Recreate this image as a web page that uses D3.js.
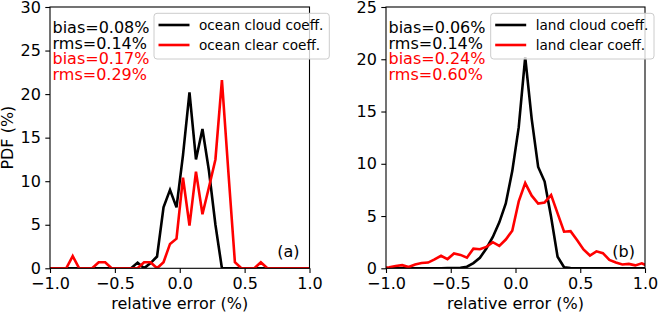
<!DOCTYPE html>
<html>
<head>
<meta charset="utf-8">
<script src="https://cdn.jsdelivr.net/npm/d3@7"></script>
<style>
  body { margin: 0; background: #fff; }
  text { font-family: "DejaVu Sans", sans-serif; }
</style>
</head>
<body>
<script>
// bin centres of the error histogram (x, %), one extra bin each side that the axes clip
var binCenters = [-1.025, -0.975, -0.925, -0.875, -0.825, -0.775, -0.725, -0.675, -0.625, -0.575,
  -0.525, -0.475, -0.425, -0.375, -0.325, -0.275, -0.225, -0.175, -0.125, -0.075,
  -0.025, 0.025, 0.075, 0.125, 0.175, 0.225, 0.275, 0.325, 0.375, 0.425,
  0.475, 0.525, 0.575, 0.625, 0.675, 0.725, 0.775, 0.825, 0.875, 0.925,
  0.975, 1.025];

var oceanCloud = [0, 0, 0, 0, 0, 0, 0, 0, 0, 0,
  0, 0, 0, 0, 0.65, 0, 0.6, 1.35, 7.0, 9.0,
  7.0, 13.0, 20.2, 12.5, 16.0, 11.2, 5.0, 0, 0, 0,
  0, 0, 0, 0, 0, 0, 0, 0, 0, 0,
  0, 0];
var oceanClear = [0, 0, 0, 0, 1.4, 0, 0, 0, 0.7, 0.7,
  0, 0, 0, 0, 0, 0.7, 0.7, 0, 0.7, 2.8,
  3.4, 10.4, 4.9, 11.1, 6.2, 9.3, 12.5, 21.6, 11.0, 0.7,
  0, 0, 0, 0.7, 0, 0, 0, 0, 0, 0,
  0, 0];
var landCloud = [0, 0, 0, 0, 0, 0, 0, 0, 0, 0,
  0.02, 0.03, 0.05, 0.15, 0.5, 1.0, 1.9, 3.0, 4.4, 6.2,
  9.3, 13.5, 20.2, 14.3, 9.7, 8.3, 4.9, 1.1, 0.1, 0.02,
  0, 0, 0, 0, 0, 0, 0, 0, 0, 0,
  0, 0];
var landClear = [0.02, 0.1, 0.22, 0.3, 0.12, 0.37, 0.5, 0.55, 0.85, 1.2,
  0.88, 1.42, 1.28, 1.02, 1.88, 1.82, 2.05, 2.5, 2.15, 2.75,
  3.6, 6.4, 8.15, 6.95, 6.2, 6.3, 7.0, 5.25, 3.5, 3.55,
  2.7, 1.8, 1.22, 1.62, 1.45, 0.8, 0.55, 0.36, 0.42, 0.28,
  0.48, 0.2];

var xTicks = [-1.0, -0.5, 0.0, 0.5, 1.0];
var yTicksOcean = [0, 5, 10, 15, 20, 25, 30];
var yTicksLand = [0, 5, 10, 15, 20, 25];

var oceanStats = ["bias=0.08%", "rms=0.14%", "bias=0.17%", "rms=0.29%"];
var landStats = ["bias=0.06%", "rms=0.14%", "bias=0.24%", "rms=0.60%"];
var statColors = ["black", "black", "red", "red"];

var W = 658, H = 315;
var plotTop = 7, plotBottom = 268.3;

var svg = d3.select("body").append("svg")
  .attr("width", W)
  .attr("height", H);

function drawPanel(p) {
  var x = d3.scaleLinear().domain([-1, 1]).range([p.left, p.right]);
  var y = d3.scaleLinear().domain([0, p.ymax]).range([plotBottom, plotTop]);

  var g = svg.append("g");

  g.append("clipPath").attr("id", "clip" + p.id)
    .append("rect")
      .attr("x", p.left).attr("y", plotTop)
      .attr("width", p.right - p.left).attr("height", plotBottom - plotTop);

  var line = d3.line()
    .x(function (d) { return x(d[0]); })
    .y(function (d) { return y(d[1]); });

  p.series.forEach(function (s) {
    g.append("path")
      .datum(binCenters.map(function (c, i) { return [c, s.values[i]]; }))
      .attr("clip-path", "url(#clip" + p.id + ")")
      .attr("d", line)
      .style("fill", "none")
      .style("stroke", s.color)
      .style("stroke-width", 2.6)
      .style("stroke-linejoin", "miter");
  });

  // axes
  var xAxis = d3.axisBottom(x).tickValues(xTicks).tickSize(4.7).tickPadding(4.5)
    .tickFormat(d3.format(".1f"));
  var yAxis = d3.axisLeft(y).tickValues(p.yTicks).tickSize(4.7).tickPadding(4.5)
    .tickFormat(d3.format("d"));

  var gx = g.append("g").attr("transform", "translate(0," + plotBottom + ")").call(xAxis);
  var gy = g.append("g").attr("transform", "translate(" + p.left + ",0)").call(yAxis);
  [gx, gy].forEach(function (a) {
    a.select(".domain").remove();
    a.selectAll("line").style("stroke", "black").style("stroke-width", 1.1);
    a.selectAll("text").style("font-size", "16px").style("fill", "black")
      .style("font-family", "DejaVu Sans");
  });
  gx.selectAll("text").text(function (d) { return d3.format(".1f")(d).replace("-", "\u2212"); });

  g.append("rect")
    .attr("x", p.left).attr("y", plotTop)
    .attr("width", p.right - p.left).attr("height", plotBottom - plotTop)
    .style("fill", "none").style("stroke", "black").style("stroke-width", 1.1);

  g.append("text")
    .attr("x", (p.left + p.right) / 2).attr("y", 309)
    .attr("text-anchor", "middle")
    .style("font-size", "16px")
    .text("relative error (%)");

  // stats text
  g.selectAll(".stat")
    .data(p.stats).enter().append("text")
      .attr("class", "stat")
      .attr("x", p.left + 2.5)
      .attr("y", function (d, i) { return 33 + i * 15.5; })
      .style("font-size", "16px")
      .style("fill", function (d, i) { return statColors[i]; })
      .text(function (d) { return d; });

  g.append("text")
    .attr("x", p.right - 10).attr("y", 256.5)
    .attr("text-anchor", "end")
    .style("font-size", "16px")
    .text(p.tag);

  // legend
  var lg = g.append("g").attr("transform", "translate(" + p.legendX + ",13.3)");
  lg.append("rect")
    .attr("width", p.legendW).attr("height", 45.7)
    .attr("rx", 3).attr("ry", 3)
    .style("fill", "white").style("fill-opacity", 0.8)
    .style("stroke", "#cccccc").style("stroke-width", 1);
  p.series.forEach(function (s, i) {
    lg.append("line")
      .attr("x1", 4.5).attr("x2", 35.5)
      .attr("y1", 11.7 + i * 20).attr("y2", 11.7 + i * 20)
      .style("stroke", s.color).style("stroke-width", 2.6);
    lg.append("text")
      .attr("x", 45).attr("y", 11.7 + i * 20).attr("dy", "0.36em")
      .style("font-size", "13.6px")
      .text(s.name);
  });
}

drawPanel({
  id: "a", left: 50, right: 309.5, ymax: 30, yTicks: yTicksOcean,
  stats: oceanStats, tag: "(a)", legendX: 154, legendW: 175.3,
  series: [
    {name: "ocean cloud coeff.", values: oceanCloud, color: "black"},
    {name: "ocean clear coeff.", values: oceanClear, color: "red"}
  ]
});
drawPanel({
  id: "b", left: 386, right: 645, ymax: 25, yTicks: yTicksLand,
  stats: landStats, tag: "(b)", legendX: 490.7, legendW: 163.3,
  series: [
    {name: "land cloud coeff.", values: landCloud, color: "black"},
    {name: "land clear coeff.", values: landClear, color: "red"}
  ]
});

svg.append("text")
  .attr("transform", "translate(13," + (plotTop + plotBottom) / 2 + ") rotate(-90)")
  .attr("text-anchor", "middle")
  .style("font-size", "16px")
  .text("PDF (%)");
</script>
</body>
</html>
